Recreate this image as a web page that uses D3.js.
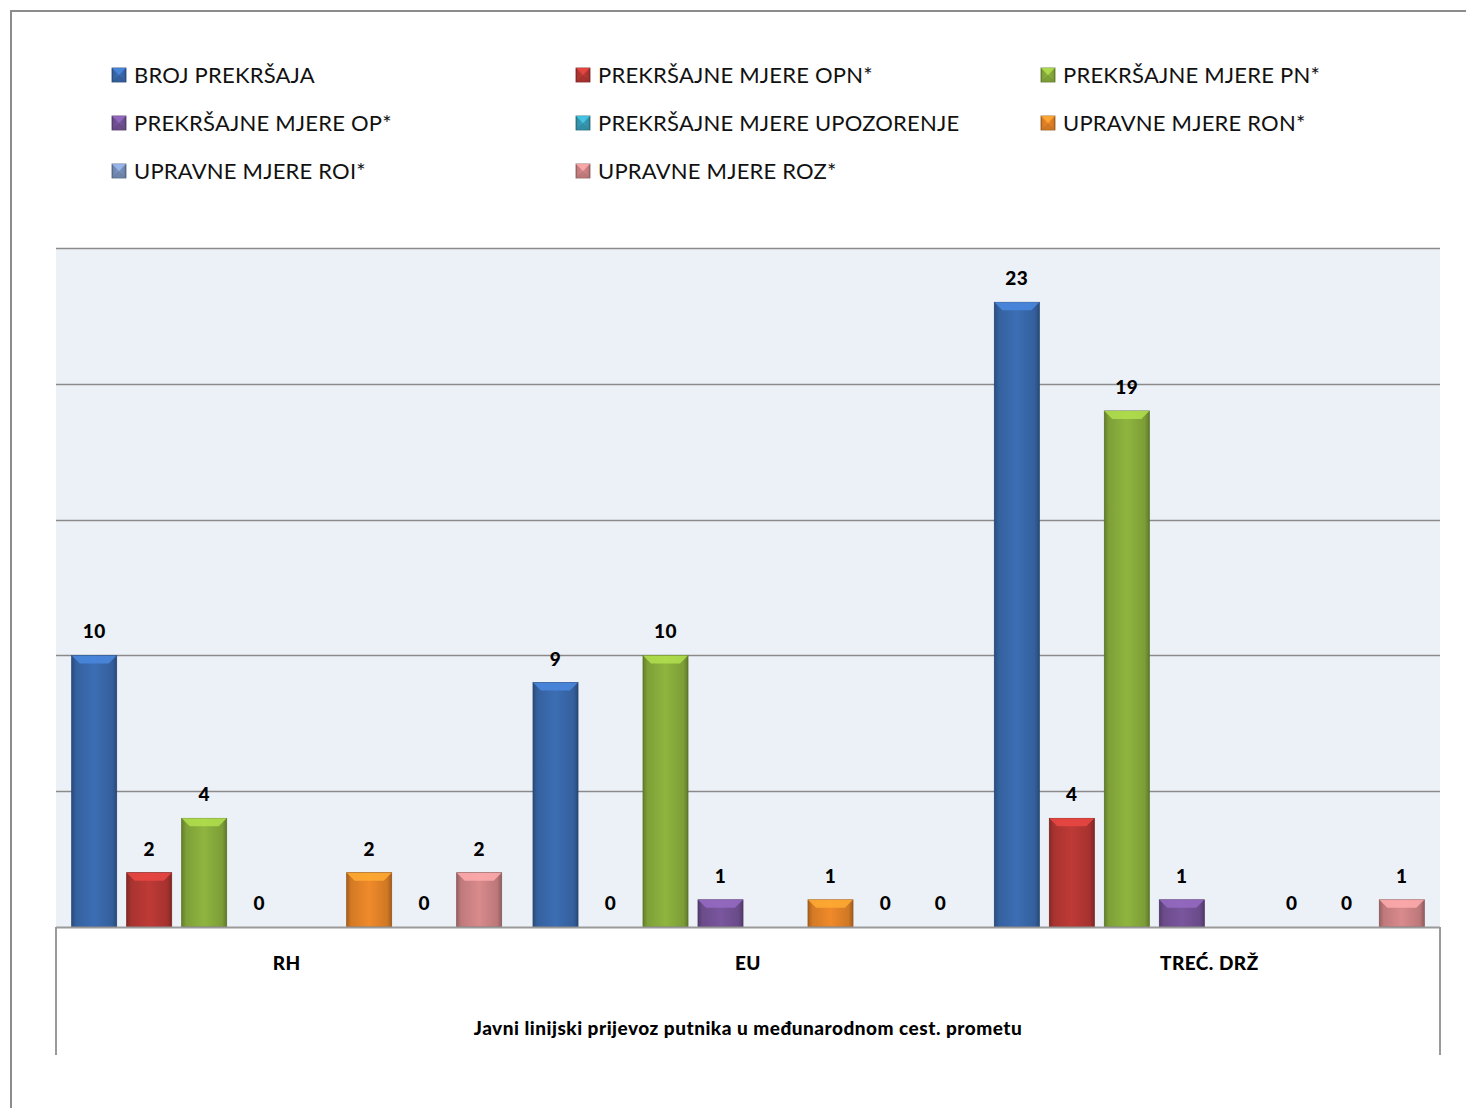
<!DOCTYPE html>
<html>
<head>
<meta charset="utf-8">
<script src="https://cdn.jsdelivr.net/npm/d3@7"></script>
<style>
  html, body { margin: 0; padding: 0; background: #ffffff; }
  svg { display: block; }
  text { font-family: Lato, "Open Sans", sans-serif; }
  .bold { font-weight: 900; font-size: 19px; letter-spacing: 0.5px; fill: #000; }
</style>
</head>
<body>
<svg id="chart" width="1466" height="1108"></svg>
<script>
// ---- data ----
const categories = ["RH", "EU", "TREĆ. DRŽ"];
const seriesNames = [
  "BROJ PREKRŠAJA",
  "PREKRŠAJNE MJERE OPN*",
  "PREKRŠAJNE MJERE PN*",
  "PREKRŠAJNE MJERE OP*",
  "PREKRŠAJNE MJERE UPOZORENJE",
  "UPRAVNE MJERE RON*",
  "UPRAVNE MJERE ROI*",
  "UPRAVNE MJERE ROZ*"
];
const brojPrekrsaja   = [10, 9, 23];
const mjereOPN        = [2, 0, 4];
const mjerePN         = [4, 10, 19];
const mjereOP         = [0, 1, 1];
const mjereUpozorenje = [null, null, null];
const mjereRON        = [2, 1, 0];
const mjereROI        = [0, 0, 0];
const mjereROZ        = [2, 0, 1];
const seriesValues = [brojPrekrsaja, mjereOPN, mjerePN, mjereOP, mjereUpozorenje, mjereRON, mjereROI, mjereROZ];
const seriesColors = ["#3c6eb4", "#be3a36", "#8fb53f", "#7a569e", "#3aa3bd", "#f08a2a", "#7e97c4", "#d98a8c"];
const yTicks = [0, 5, 10, 15, 20, 25];
const axisTitle = "Javni linijski prijevoz putnika u međunarodnom cest. prometu";

// ---- layout ----
const svg = d3.select("#chart");
const plot = { left: 56, right: 1440, top: 248, bottom: 927 };

const x0 = d3.scaleBand().domain(categories).range([plot.left, plot.right]).padding(0);
const x1 = d3.scaleBand().domain(d3.range(seriesNames.length)).range([0, x0.bandwidth()])
  .paddingInner(0.1818).paddingOuter(0.285);
const y = d3.scaleLinear().domain([0, 25]).range([plot.bottom, plot.top]);

// outer chart border
svg.append("path").attr("d", "M11,1108 V11 H1466").attr("fill", "none")
  .attr("stroke", "#8c8c8c").attr("stroke-width", 2);

// plot background
svg.append("rect").attr("x", plot.left).attr("y", plot.top)
  .attr("width", plot.right - plot.left).attr("height", plot.bottom - plot.top)
  .attr("fill", "#ecf0f7");

// gridlines
svg.append("g").selectAll("line").data(yTicks.filter(d => d > 0)).join("line")
  .attr("x1", plot.left).attr("x2", plot.right)
  .attr("y1", d => Math.round(y(d)) + 0.5).attr("y2", d => Math.round(y(d)) + 0.5)
  .attr("stroke", "#8a8a8a").attr("stroke-width", 1.5);

// gradients
const defs = svg.append("defs");
seriesColors.forEach((c, i) => {
  const base = d3.color(c);
  const g = defs.append("linearGradient").attr("id", "grad" + i)
    .attr("x1", "0").attr("x2", "1").attr("y1", "0").attr("y2", "0");
  g.append("stop").attr("offset", "0%").attr("stop-color", base.darker(1.0));
  g.append("stop").attr("offset", "10%").attr("stop-color", base.darker(0.35));
  g.append("stop").attr("offset", "50%").attr("stop-color", base);
  g.append("stop").attr("offset", "90%").attr("stop-color", base.darker(0.4));
  g.append("stop").attr("offset", "100%").attr("stop-color", base.darker(1.1));
});

function drawBevel(sel, x, yTop, w, h, i, bottomBevel) {
  const c = d3.color(seriesColors[i]);
  sel.append("rect").attr("x", x).attr("y", yTop).attr("width", w).attr("height", h)
    .attr("fill", `url(#grad${i})`).attr("stroke", c.darker(1.3)).attr("stroke-width", 0.8);
  const b = Math.min(8, h / 2, w / 2);
  // top bevel (lighter)
  sel.append("path")
    .attr("d", `M${x},${yTop} L${x + w},${yTop} L${x + w - b},${yTop + b} L${x + b},${yTop + b} Z`)
    .attr("fill", c.brighter(0.6)).attr("opacity", 0.85);
  if (bottomBevel) {
    sel.append("path")
      .attr("d", `M${x},${yTop + h} L${x + w},${yTop + h} L${x + w - b},${yTop + h - b} L${x + b},${yTop + h - b} Z`)
      .attr("fill", c.darker(0.6)).attr("opacity", 0.6);
  }
}

// bars
const groups = svg.append("g").selectAll("g").data(categories).join("g")
  .attr("transform", d => `translate(${x0(d)},0)`);

groups.each(function(cat, ci) {
  const g = d3.select(this);
  seriesValues.forEach((vals, si) => {
    const v = vals[ci];
    if (v === null || v === undefined) return;
    const bx = x1(si), bw = x1.bandwidth();
    if (v > 0) {
      drawBevel(g, bx, y(v), bw, y(0) - y(v), si, false);
    }
    g.append("text").attr("class", "bold").attr("x", bx + bw / 2).attr("y", y(v) - 17)
      .attr("text-anchor", "middle").text(v);
  });
});

// category axis box
const axisCol = "#9a9a9a";
svg.append("line").attr("x1", plot.left).attr("x2", plot.right)
  .attr("y1", plot.bottom + 0.5).attr("y2", plot.bottom + 0.5)
  .attr("stroke", axisCol).attr("stroke-width", 2);
[plot.left, plot.right].forEach(xx => {
  svg.append("line").attr("x1", xx).attr("x2", xx).attr("y1", plot.bottom).attr("y2", 1055)
    .attr("stroke", axisCol).attr("stroke-width", 2);
});
svg.append("g").selectAll("text").data(categories).join("text").attr("class", "bold")
  .attr("x", d => x0(d) + x0.bandwidth() / 2).attr("y", 970)
  .attr("text-anchor", "middle").text(d => d);
svg.append("text").attr("class", "bold").attr("x", (plot.left + plot.right) / 2).attr("y", 1035)
  .attr("text-anchor", "middle").text(axisTitle);

// legend
const legCols = [112, 576, 1041];
const legRows = [75, 123, 171];
const leg = svg.append("g");
seriesNames.forEach((name, i) => {
  const col = i % 3, row = Math.floor(i / 3);
  const lx = legCols[col], ly = legRows[row];
  const g = leg.append("g");
  drawBevel(g, lx, ly - 7, 14, 14, i, true);
  g.append("text").attr("x", lx + 22).attr("y", ly + 8)
    .attr("font-size", 22).attr("letter-spacing", 0.2).attr("fill", "#111").text(name);
});
</script>
</body>
</html>
